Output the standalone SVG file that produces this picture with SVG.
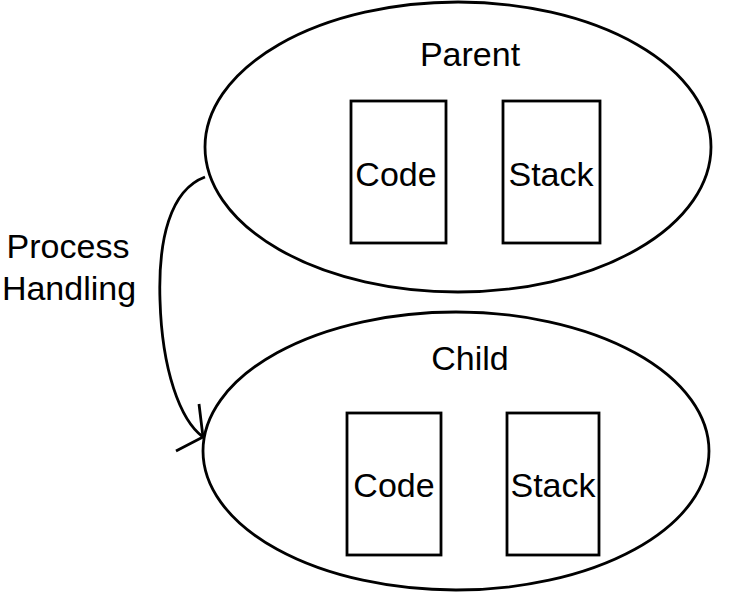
<svg xmlns="http://www.w3.org/2000/svg" width="731" height="602" viewBox="0 0 731 602">
<style>
.s{fill:none;stroke:#000;stroke-width:2.8}
.t{font-family:"Liberation Sans",Arial,sans-serif;font-size:34px;fill:#000;text-anchor:middle}
</style>
<rect width="731" height="602" fill="#fff"/>
<g id="parent">
<ellipse class="s" cx="458" cy="147" rx="253" ry="145"/>
<text class="t" x="470" y="66">Parent</text>
</g>
<g id="parent-code">
<rect class="s" x="351" y="101" width="95" height="142"/>
<text class="t" x="396" y="186">Code</text>
</g>
<g id="parent-stack">
<rect class="s" x="503" y="101" width="97" height="142"/>
<text class="t" x="551" y="186">Stack</text>
</g>
<g id="child">
<ellipse class="s" cx="456" cy="451" rx="253" ry="139"/>
<text class="t" x="470" y="370">Child</text>
</g>
<g id="child-code">
<rect class="s" x="347" y="413" width="94" height="142"/>
<text class="t" x="394" y="497">Code</text>
</g>
<g id="child-stack">
<rect class="s" x="507" y="413" width="92" height="142"/>
<text class="t" x="553" y="497">Stack</text>
</g>
<g id="label">
<text class="t" x="68" y="258">Process</text>
<text class="t" x="69" y="300">Handling</text>
</g>
<g id="connectors">
<path class="s" d="M205,177 C170,190 158,240 160,300 C162,370 180,420 203,437"/>
<path class="s" d="M199,404 L203,437 L176,451"/>
</g>
</svg>
